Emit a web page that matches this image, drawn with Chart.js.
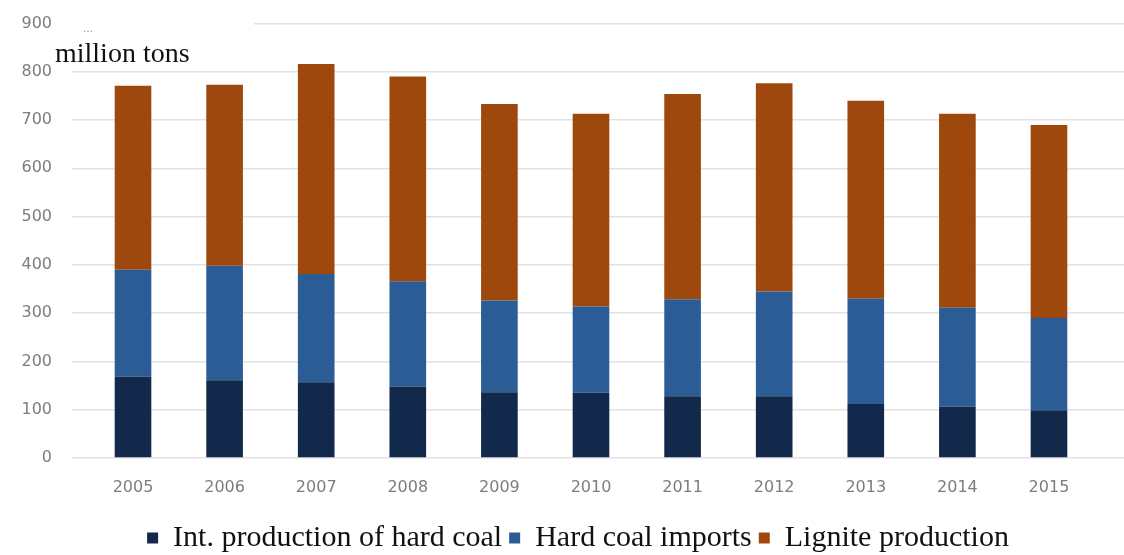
<!DOCTYPE html>
<html>
<head>
<meta charset="utf-8">
<script src="https://cdn.jsdelivr.net/npm/chart.js@4.4.0/dist/chart.umd.min.js"></script>
<style>
  html, body { margin: 0; padding: 0; background: #fff; }
</style>
</head>
<body>
<canvas id="myChart" width="1124" height="555"></canvas>
<script>
// coal supply, million tons per year
const years = [2005, 2006, 2007, 2008, 2009, 2010, 2011, 2012, 2013, 2014, 2015];
const hardCoal = [169, 161, 157, 148, 136, 135, 128, 128, 112, 106, 99];
const hardImports = [221, 237, 224, 218, 190, 179, 201, 217, 218, 205, 191];
const lignite = [381, 375, 435, 424, 407, 399, 425, 431, 410, 402, 400];
const yMax = 900;
const yStep = 100;

const tickFont = { family: "DejaVu Sans", size: 16 };
const serif = "Liberation Serif";

// white tag with the unit, sits over the top gridline
const unitLabel = {
  id: "unitLabel",
  afterLayout(chart) {
    // legend row sits a little right of centre
    chart.legend.left += 16;
    chart.legend.right += 16;
  },
  beforeDatasetsDraw(chart) {
    const ctx = chart.ctx;
    const left = chart.chartArea.left;
    const top = chart.scales.y.getPixelForValue(yMax);
    ctx.save();
    ctx.fillStyle = "#fff";
    ctx.fillRect(left - 18, top - 10, 200, 52);
    ctx.fillStyle = "#8a8a8a";
    ctx.font = "10px DejaVu Sans";
    ctx.textAlign = "center";
    ctx.fillText("…", left + 16, top + 6);
    ctx.fillStyle = "#111";
    ctx.font = "28px " + serif;
    ctx.textAlign = "left";
    ctx.textBaseline = "alphabetic";
    ctx.fillText("million tons", left - 17, top + 38);
    ctx.restore();
  }
};

const ctx = document.getElementById("myChart").getContext("2d");
const myChart = new Chart(ctx, {
  type: "bar",
  data: {
    labels: years,
    datasets: [
      { label: "Int. production of hard coal", data: hardCoal, backgroundColor: "#13294b" },
      { label: "Hard coal imports", data: hardImports, backgroundColor: "#2c5c95" },
      { label: "Lignite production", data: lignite, backgroundColor: "#9e480e" }
    ]
  },
  options: {
    responsive: false,
    animation: false,
    devicePixelRatio: 1,
    layout: { padding: { top: 23.5, right: 0, bottom: -8, left: 0 } },
    datasets: {
      bar: { barPercentage: 0.4, categoryPercentage: 1 }
    },
    scales: {
      x: {
        type: "linear",
        stacked: true,
        offset: false,
        min: 2004.334,
        max: 2015.819,
        grid: { display: false, drawTicks: false, offset: false },
        border: { display: false },
        afterBuildTicks: (scale) => {
          scale.ticks = years.map(v => ({ value: v }));
        },
        afterFit: (scale) => { scale.height = 58; },
        ticks: {
          autoSkip: false,
          maxRotation: 0,
          padding: 20,
          color: "#7d7d7d",
          font: tickFont,
          callback: (v) => String(v)
        }
      },
      y: {
        stacked: true,
        min: 0,
        max: yMax,
        afterFit: (scale) => {
          scale.width = 72;
          scale.paddingTop = 0;
          scale.paddingBottom = 0;
        },
        grid: { color: "#e2e2e2", lineWidth: 1.5, drawTicks: false },
        border: { display: false },
        ticks: {
          stepSize: yStep,
          padding: 20,
          color: "#7d7d7d",
          font: tickFont
        }
      }
    },
    plugins: {
      tooltip: { enabled: false },
      legend: {
        position: "bottom",
        labels: {
          boxWidth: 11,
          boxHeight: 11,
          padding: 7,
          color: "#111",
          font: { family: serif, size: 30 }
        }
      }
    }
  },
  plugins: [unitLabel]
});
</script>
</body>
</html>
